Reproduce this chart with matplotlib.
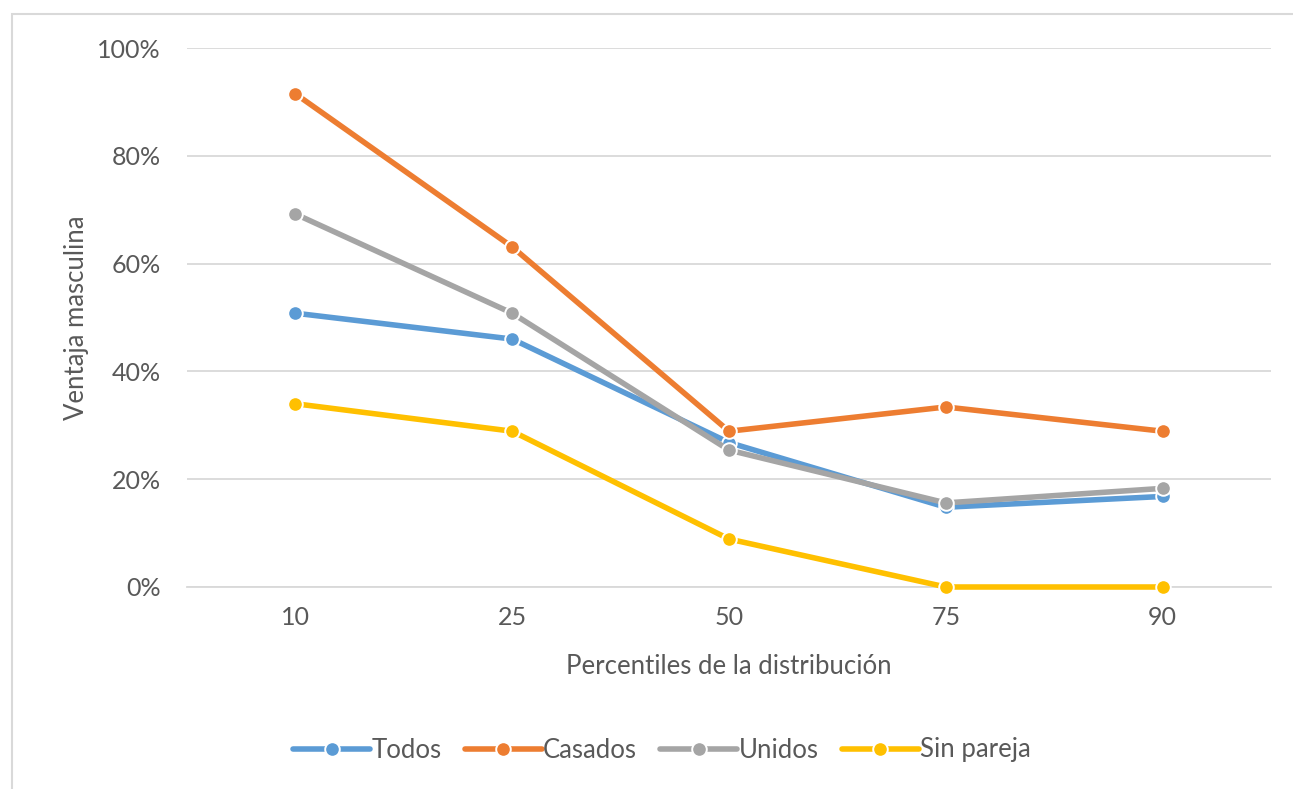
import matplotlib
matplotlib.use("Agg")
import matplotlib.pyplot as plt
from matplotlib.patches import Rectangle
from matplotlib.ticker import FuncFormatter

categories = ["10", "25", "50", "75", "90"]
todos = [0.508, 0.460, 0.268, 0.148, 0.168]
casados = [0.915, 0.631, 0.289, 0.334, 0.289]
unidos = [0.692, 0.508, 0.254, 0.156, 0.183]
sin_pareja = [0.340, 0.289, 0.089, 0.0, 0.0]

series = [("Todos", todos, "#5B9BD5"),
          ("Casados", casados, "#ED7D31"),
          ("Unidos", unidos, "#A5A5A5"),
          ("Sin pareja", sin_pareja, "#FFC000")]

plt.rcParams['font.family'] = ['Lato', 'DejaVu Sans']
txt = "#595959"

W, H = 1293, 789
fig = plt.figure(figsize=(W / 100, H / 100), dpi=100)
fig.patches.append(Rectangle((12 / W, -0.1), 1.2, 1 - 14 / H + 0.1, transform=fig.transFigure,
                             fill=False, edgecolor="#D9D9D9", linewidth=1.5, zorder=0))
ax = fig.add_axes([187 / W, 1 - 587 / H, (1271 - 187) / W, (587 - 48) / H])

x = list(range(len(categories)))
for i, (name, vals, col) in enumerate(series):
    ax.plot(x, vals, color=col, linewidth=4.0, marker="o", markersize=10.5,
            markerfacecolor=col, markeredgecolor="white", markeredgewidth=1.4,
            label=name, zorder=3 + i, solid_capstyle="round", clip_on=False)

ax.set_xlim(-0.5, len(categories) - 0.5)
ax.set_ylim(0, 1)
ax.set_yticks([0, 0.2, 0.4, 0.6, 0.8, 1.0])
ax.yaxis.set_major_formatter(FuncFormatter(lambda v, p: f"{v*100:.0f}%"))
ax.set_xticks(x)
ax.set_xticklabels(categories)
ax.grid(axis="y", color="#D9D9D9", linewidth=1.3)
ax.set_axisbelow(True)
for s in ["top", "right", "left"]:
    ax.spines[s].set_visible(False)
ax.spines["bottom"].set_color("#D9D9D9")
ax.spines["bottom"].set_linewidth(1.3)
ax.tick_params(axis="both", length=0, labelsize=18, labelcolor=txt)
ax.tick_params(axis="y", pad=19)
ax.tick_params(axis="x", pad=14)

ax.set_xlabel("Percentiles de la distribución", fontsize=18.5, color=txt, labelpad=18)
ax.set_ylabel("Ventaja masculina", fontsize=18.5, color=txt, labelpad=6)

leg = fig.legend(loc="center", bbox_to_anchor=(662 / W, 1 - 750 / H), ncol=4, frameon=False,
                 fontsize=18.5, handlelength=3.0, columnspacing=0.9, handletextpad=0.05,
                 labelcolor=txt)

fig.savefig("out.png", dpi=100)
